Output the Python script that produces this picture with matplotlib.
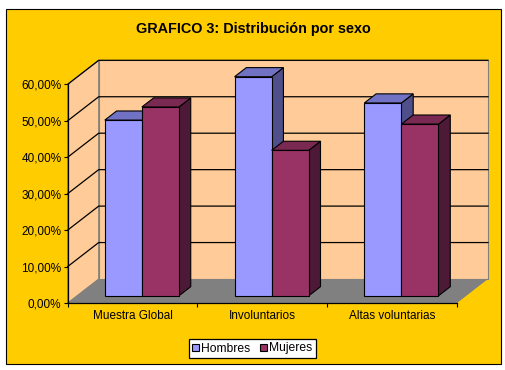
import numpy as np
import matplotlib
matplotlib.use("Agg")
import matplotlib.pyplot as plt
import matplotlib.patches as mpatches
from matplotlib.patches import Polygon, Rectangle

# ── Data ──────────────────────────────────────────────────────────────
categories = ["Muestra Global", "Involuntarios", "Altas voluntarias"]
hombres = [48.2, 60.1, 52.9]
mujeres = [51.8, 39.9, 47.1]
series_names = ["Hombres", "Mujeres"]
y_ticks = [0, 10, 20, 30, 40, 50, 60]
y_tick_labels = ["0,00%", "10,00%", "20,00%", "30,00%", "40,00%", "50,00%", "60,00%"]
title = "GRAFICO 3: Distribución por sexo"

# ── Colours ───────────────────────────────────────────────────────────
BG = "#FFCC00"
WALL = "#FFCC99"
FLOOR = "#808080"
FRONT = ["#9999FF", "#993366"]
TOP = ["#7272C4", "#7A2952"]
SIDE = ["#4F4F8C", "#4C1A36"]

plt.rcParams["font.family"] = ["Liberation Sans", "DejaVu Sans"]

W, H = 505, 370
fig = plt.figure(figsize=(W / 100, H / 100), dpi=100, facecolor="white")

# chart area (yellow box)
fig.patches.append(Rectangle((6 / W, 1 - 364 / H), 495 / W, 355 / H,
                             transform=fig.transFigure, facecolor=BG,
                             edgecolor="black", linewidth=0.8, zorder=-5))

# front plane of the plot: x 0..3, y 0..60
x0p, x1p, y0p, y1p = 67.7, 457.0, 303.0, 84.3
ax = fig.add_axes([x0p / W, 1 - y0p / H, (x1p - x0p) / W, (y0p - y1p) / H])
ax.set_xlim(0, len(categories))
ax.set_ylim(0, 60)
ax.patch.set_visible(False)

# oblique depth offsets in data units
DX = 31 / ((x1p - x0p) / len(categories))
DY = 24 / ((y0p - y1p) / 60)


def P(x, y, z):
    return (x + z * DX, y + z * DY)


def poly(pts, fc, ec="none", lw=0.0, z=1):
    ax.add_patch(Polygon(pts, closed=True, facecolor=fc, edgecolor=ec,
                         linewidth=lw, zorder=z, clip_on=False,
                         joinstyle="miter"))


n = len(categories)
ymax = y_ticks[-1]

# walls and floor
poly([P(0, 0, 1), P(n, 0, 1), P(n, ymax, 1), P(0, ymax, 1)], WALL, "#808080", 0.8, 1)
poly([P(0, 0, 0), P(0, 0, 1), P(0, ymax, 1), P(0, ymax, 0)], WALL, "#808080", 0.8, 1)
poly([P(0, 0, 0), P(n, 0, 0), P(n, 0, 1), P(0, 0, 1)], FLOOR, "none", 0, 2)

# gridlines
for yv in y_ticks[1:]:
    a, b, c = P(0, yv, 0), P(0, yv, 1), P(n, yv, 1)
    ax.plot([a[0], b[0], c[0]], [a[1], b[1], c[1]], color="black",
            linewidth=0.9, zorder=3, clip_on=False)

# bars (gap width 150 %)
bw = 1 / (2 + 1.5)
z0, z1 = 0.30, 0.68
for i in range(n):
    for s, vals in enumerate([hombres, mujeres]):
        v = vals[i]
        xa = i + bw * 0.75 + s * bw
        xb = xa + bw
        zo = 5 + i * 2 + s
        poly([P(xb, 0, z0), P(xb, 0, z1), P(xb, v, z1), P(xb, v, z0)],
             SIDE[s], "black", 0.8, zo)
        poly([P(xa, v, z0), P(xb, v, z0), P(xb, v, z1), P(xa, v, z1)],
             TOP[s], "black", 0.8, zo)
        poly([P(xa, 0, z0), P(xb, 0, z0), P(xb, v, z0), P(xa, v, z0)],
             FRONT[s], "black", 0.8, zo)

# axes: spines and ticks
for side in ["top", "right"]:
    ax.spines[side].set_visible(False)
for side in ["left", "bottom"]:
    ax.spines[side].set_color("black")
    ax.spines[side].set_linewidth(0.9)
    ax.spines[side].set_zorder(20)

ax.set_yticks(y_ticks)
ax.set_yticklabels(y_tick_labels)
ax.tick_params(axis="y", direction="out", length=3, width=0.8, pad=1.5,
               labelsize=8.5, colors="black")

ax.set_xticks(range(n + 1))
ax.set_xticklabels([])
ax.tick_params(axis="x", which="major", direction="out", length=3, width=0.8)
ax.set_xticks(np.arange(n) + 0.5, minor=True)
ax.set_xticklabels(categories, minor=True)
ax.tick_params(axis="x", which="minor", length=0, pad=5, labelsize=8.5)

fig.text(253.5 / W, 1 - 29 / H, title, ha="center", va="center",
         fontsize=10.4, fontweight="bold")

handles = [mpatches.Patch(facecolor=FRONT[k], edgecolor="black", linewidth=0.8,
                          label=series_names[k]) for k in range(2)]
leg = fig.legend(handles=handles, loc="center", ncol=2,
                 bbox_to_anchor=(252.5 / W, 1 - 348.5 / H), fontsize=8.7,
                 frameon=True, fancybox=False, edgecolor="black",
                 facecolor="white", framealpha=1, handlelength=0.55,
                 handleheight=0.55, handletextpad=0.2, columnspacing=0.8,
                 borderpad=0.3, borderaxespad=0)
leg.get_frame().set_linewidth(0.9)

fig.savefig("out.png", dpi=100, facecolor="white")
